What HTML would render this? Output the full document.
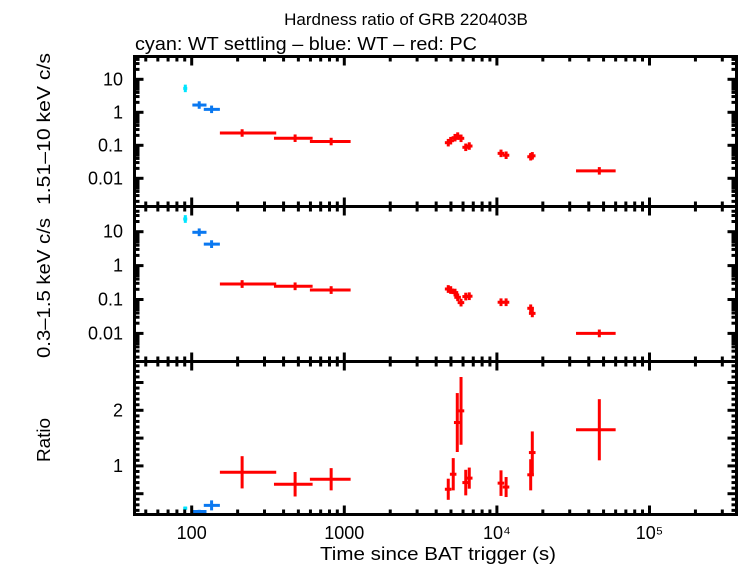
<!DOCTYPE html>
<html><head><meta charset="utf-8"><style>
html,body{margin:0;padding:0;background:#fff;}
svg{display:block;font-family:"Liberation Sans",sans-serif;}
</style></head><body>
<svg id="chart" width="742" height="566" viewBox="0 0 742 566" xmlns="http://www.w3.org/2000/svg">
<text x="406" y="25" font-size="17" text-anchor="middle">Hardness ratio of GRB 220403B</text>
<text x="135" y="50" font-size="18" textLength="342" lengthAdjust="spacingAndGlyphs">cyan: WT settling – blue: WT – red: PC</text>
<text transform="translate(50,129) rotate(-90)" font-size="18" text-anchor="middle" textLength="152" lengthAdjust="spacingAndGlyphs">1.51–10 keV c/s</text>
<text transform="translate(50,288) rotate(-90)" font-size="18" text-anchor="middle" textLength="140" lengthAdjust="spacingAndGlyphs">0.3–1.5 keV c/s</text>
<text transform="translate(50,440) rotate(-90)" font-size="18" text-anchor="middle" textLength="44" lengthAdjust="spacingAndGlyphs">Ratio</text>
<text x="438" y="560" font-size="18" text-anchor="middle" textLength="236" lengthAdjust="spacingAndGlyphs">Time since BAT trigger (s)</text>
<g id="marks"></g>
<g id="axes"></g>
</svg>
<script>
// data
const seriesColors = ["#00e5ff", "#0a78f0", "#ff0000"];
const hardT   = [90.8, 112, 135, 214, 476, 820, 4800, 4980, 5315, 5535, 5820, 6250, 6590, 10640, 11490, 16650, 17060, 46900];
const hardTLo = [88, 101, 120, 153, 346, 595, 4560, 4730, 5050, 5260, 5530, 5940, 6260, 10110, 10920, 15820, 16210, 33000];
const hardTHi = [93.5, 125, 153, 358, 620, 1100, 5040, 5230, 5580, 5810, 6110, 6560, 6920, 11170, 12060, 17480, 17910, 60000];
const hardV   = [5.3, 1.66, 1.23, 0.236, 0.164, 0.13, 0.12, 0.138, 0.17, 0.19, 0.163, 0.087, 0.095, 0.057, 0.05, 0.045, 0.048, 0.0168];
const hardC   = [0,1,1,2,2,2,2,2,2,2,2,2,2,2,2,2,2,2];
const softV   = [23.7, 9.6, 4.3, 0.286, 0.245, 0.19, 0.204, 0.19, 0.16, 0.116, 0.081, 0.122, 0.125, 0.083, 0.083, 0.055, 0.039, 0.01];
const ratioT  = [90.8, 112, 135, 214, 476, 820, 4800, 5175, 5500, 5820, 6250, 6590, 10640, 11490, 16650, 17060, 46900];
const ratioTLo= [88, 101, 120, 153, 346, 595, 4560, 4920, 5230, 5530, 5940, 6260, 10110, 10920, 15820, 16210, 33000];
const ratioTHi= [93.5, 125, 153, 358, 620, 1100, 5040, 5430, 5780, 6110, 6560, 6920, 11170, 12060, 17480, 17910, 60000];
const ratioV  = [0.24, 0.18, 0.29, 0.885, 0.67, 0.76, 0.58, 0.85, 1.78, 1.99, 0.70, 0.78, 0.69, 0.62, 0.84, 1.24, 1.65];
const ratioE  = [0.03, 0.03, 0.09, 0.29, 0.22, 0.2, 0.19, 0.29, 0.53, 0.61, 0.23, 0.19, 0.23, 0.18, 0.28, 0.38, 0.55];
const ratioC  = [0,1,1,2,2,2,2,2,2,2,2,2,2,2,2,2,2];
const fluxErrFactor = 1.3;
const xTickLabels = ["100", "1000", "10⁴", "10⁵"];
const xTickVals = [100, 1000, 10000, 100000];
const logTickLabels = ["10", "1", "0.1", "0.01"];
const logTickVals = [10, 1, 0.1, 0.01];
const ratioTickLabels = ["1", "2"];
const ratioTickVals = [1, 2];

const NS = "http://www.w3.org/2000/svg";
const L = 134.5, R = 736.5;
const X = t => 191.7 + 152.6 * (Math.log10(t) - 2);
const panels = [
  {top: 56.5, bot: 206.5, y: v => 79.3 - 33 * (Math.log10(v) - 1)},
  {top: 206.5, bot: 361.5, y: v => 231.7 - 33.9 * (Math.log10(v) - 1)},
  {top: 361.5, bot: 514.5, y: v => 465.9 - 55.6 * (v - 1)}
];
const marks = document.getElementById('marks');
const axes = document.getElementById('axes');
function line(parent, x1, y1, x2, y2, col, w, name) {
  const l = document.createElementNS(NS, 'line');
  l.setAttribute('x1', x1); l.setAttribute('y1', y1); l.setAttribute('x2', x2); l.setAttribute('y2', y2);
  l.setAttribute('stroke', col); l.setAttribute('stroke-width', w);
  
  
  parent.appendChild(l);
  return l;
}
function text(x, y, s, anchor, name) {
  const t = document.createElementNS(NS, 'text');
  t.setAttribute('x', x); t.setAttribute('y', y); t.setAttribute('font-size', '18');
  t.setAttribute('text-anchor', anchor); t.textContent = s;
  
  
  axes.appendChild(t);
}
function point(x1, x2, xc, y1, y2, yc, col, name) {
  const g = document.createElementNS(NS, 'g');
  
  
  line(g, x1, yc, x2, yc, col, 3, 'x-error-bar');
  line(g, xc, y1, xc, y2, col, 3, 'y-error-bar');
  marks.appendChild(g);
}
for (let i = 0; i < hardT.length; i++) {
  const c = seriesColors[hardC[i]];
  const p0 = panels[0], p1 = panels[1];
  point(X(hardTLo[i]), X(hardTHi[i]), X(hardT[i]), p0.y(hardV[i]*fluxErrFactor), p0.y(hardV[i]/fluxErrFactor), p0.y(hardV[i]), c, 'hard-point-' + i);
  point(X(hardTLo[i]), X(hardTHi[i]), X(hardT[i]), p1.y(softV[i]*fluxErrFactor), p1.y(softV[i]/fluxErrFactor), p1.y(softV[i]), c, 'soft-point-' + i);
}
for (let i = 0; i < ratioT.length; i++) {
  const p = panels[2];
  point(X(ratioTLo[i]), X(ratioTHi[i]), X(ratioT[i]), p.y(ratioV[i]+ratioE[i]), p.y(ratioV[i]-ratioE[i]), p.y(ratioV[i]), seriesColors[ratioC[i]], 'ratio-point-' + i);
}
panels.forEach((p, pi) => {
  const r = document.createElementNS(NS, 'rect');
  r.setAttribute('x', L); r.setAttribute('y', p.top); r.setAttribute('width', R - L); r.setAttribute('height', p.bot - p.top);
  r.setAttribute('fill', 'none'); r.setAttribute('stroke', '#000'); r.setAttribute('stroke-width', 3);
  
  
  axes.appendChild(r);
  for (let d = 10; d <= 1e5; d *= 10) {
    for (let m = 1; m < 10; m++) {
      const x = X(d * m);
      if (x < L + 2 || x > R - 2) continue;
      const len = m === 1 ? 9 : 5;
      line(axes, x, p.top, x, p.top + len, '#000', 3, 'x-tick');
      line(axes, x, p.bot, x, p.bot - len, '#000', 3, 'x-tick');
    }
  }
  if (pi < 2) {
    for (let e = -4; e <= 2; e++) {
      for (let m = 1; m < 10; m++) {
        const y = p.y(m * Math.pow(10, e));
        if (y < p.top + 2 || y > p.bot - 2) continue;
        const len = m === 1 ? 9 : 5;
        line(axes, L, y, L + len, y, '#000', 3, 'y-tick');
        line(axes, R, y, R - len, y, '#000', 3, 'y-tick');
      }
    }
    logTickVals.forEach((v, k) => text(123, p.y(v) + 6, logTickLabels[k], 'end', 'y-tick-label'));
  } else {
    for (let v = 0.2; v < 2.9; v += 0.1) {
      const y = p.y(v);
      if (y < p.top + 2 || y > p.bot - 2) continue;
      const maj = Math.abs(v * 2 - Math.round(v * 2)) < 1e-6;
      const len = maj ? 9 : 5;
      line(axes, L, y, L + len, y, '#000', 3, 'y-tick');
      line(axes, R, y, R - len, y, '#000', 3, 'y-tick');
    }
    ratioTickVals.forEach((v, k) => text(123, p.y(v) + 6, ratioTickLabels[k], 'end', 'y-tick-label'));
  }
});
xTickVals.forEach((v, k) => text(X(v), 539, xTickLabels[k], 'middle', 'x-tick-label'));
</script>
</body></html>
